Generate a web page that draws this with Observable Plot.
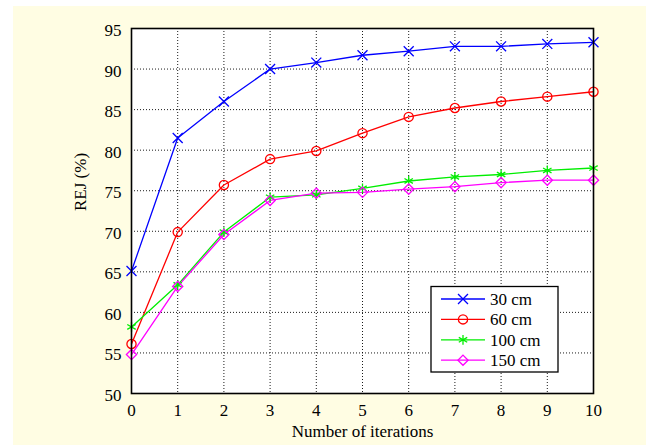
<!DOCTYPE html>
<html><head><meta charset="utf-8">
<script src="https://cdn.jsdelivr.net/npm/d3@7"></script>
<script src="https://cdn.jsdelivr.net/npm/@observablehq/plot@0.6"></script>
<style>
html,body{margin:0;padding:0;background:#fff;}
#wrap{position:relative;width:646px;height:445px;overflow:hidden;}
#bg{position:absolute;left:13px;top:6px;right:0;bottom:0;background:#fffde3;}
#chart{position:absolute;left:0;top:0;}
</style></head><body>
<div id="wrap"><div id="bg"></div><div id="chart"></div></div>
<script>
const iterations = [0, 1, 2, 3, 4, 5, 6, 7, 8, 9, 10];
const series = ["30 cm", "60 cm", "100 cm", "150 cm"];
const rej30  = [65.1, 81.5, 86.0, 90.0, 90.8, 91.7, 92.2, 92.8, 92.8, 93.1, 93.3];
const rej60  = [56.1, 69.9, 75.7, 78.9, 79.9, 82.1, 84.1, 85.2, 86.0, 86.6, 87.2];
const rej100 = [58.2, 63.4, 69.9, 74.2, 74.5, 75.3, 76.2, 76.7, 77.0, 77.5, 77.8];
const rej150 = [54.8, 63.2, 69.6, 73.8, 74.7, 74.8, 75.2, 75.5, 76.0, 76.3, 76.3];
const values = [rej30, rej60, rej100, rej150];
const colors = ["#0000ff", "#ff0000", "#00ee00", "#ff00ff"];
const symbols = ["times", "circle", "asterisk", "diamond2"];
const yTicks = [50, 55, 60, 65, 70, 75, 80, 85, 90, 95];
const xTicks = iterations;
const xLabel = "Number of iterations";
const yLabel = "REJ (%)";

const data = series.flatMap((s, i) => values[i].map((v, j) => ({series: s, x: iterations[j], y: v})));

const chart = Plot.plot({
  width: 646, height: 445,
  marginLeft: 131, marginRight: 53, marginTop: 28, marginBottom: 52,
  style: {background: "transparent", fontFamily: "'Liberation Serif', 'Times New Roman', serif", fontSize: "17px", color: "#000"},
  x: {domain: [0, 10]},
  y: {domain: [50, 95]},
  color: {domain: series, range: colors},
  symbol: {domain: series, range: symbols},
  marks: [
    Plot.frame({fill: "white"}),
    Plot.gridX(xTicks, {stroke: "#000", strokeOpacity: 1, strokeWidth: 0.9, strokeDasharray: "1,2"}),
    Plot.gridY(yTicks, {stroke: "#000", strokeOpacity: 1, strokeWidth: 0.9, strokeDasharray: "1,2"}),
    Plot.line(data, {x: "x", y: "y", z: "series", stroke: "series", strokeWidth: 1.3}),
    Plot.dot(data, {x: "x", y: "y", symbol: "series", stroke: "series", fill: "none", r: 4.6, strokeWidth: 1.3}),
    Plot.frame({stroke: "#000", strokeWidth: 1.6}),
    Plot.axisX(xTicks, {tickSize: 0, tickPadding: 10, fontSize: 17, label: null}),
    Plot.axisY(yTicks, {tickSize: 0, tickPadding: 10, fontSize: 17, label: null, dy: 2}),
    Plot.text([xLabel], {frameAnchor: "bottom", dy: 43, text: d => d, fontSize: 17}),
    Plot.text([yLabel], {frameAnchor: "left", dx: -51, rotate: -90, text: d => d, fontSize: 17})
  ]
});
document.getElementById("chart").append(chart);

// legend
const svg = d3.select(chart);
const lg = svg.append("g").attr("text-anchor", "start");
lg.append("rect").attr("x", 431).attr("y", 286.5).attr("width", 127).attr("height", 85.5)
  .attr("fill", "white").attr("stroke", "#000").attr("stroke-width", 1.3);
const symMap = {times: d3.symbolTimes, circle: d3.symbolCircle, asterisk: d3.symbolAsterisk, diamond2: d3.symbolDiamond2};
series.forEach((s, i) => {
  const yy = 299 + i * 20.4;
  lg.append("line").attr("x1", 441).attr("x2", 485).attr("y1", yy).attr("y2", yy)
    .attr("stroke", colors[i]).attr("stroke-width", 1.3);
  lg.append("path").attr("d", d3.symbol(symMap[symbols[i]], Math.PI * 4.6 * 4.6)())
    .attr("transform", `translate(463,${yy})`).attr("fill", "none").attr("stroke", colors[i]).attr("stroke-width", 1.3);
  lg.append("text").attr("x", 490).attr("y", yy).attr("dy", "0.35em").attr("font-size", 17)
    .attr("text-anchor", "start").attr("fill", "#000").text(s);
});
</script>
</body></html>
